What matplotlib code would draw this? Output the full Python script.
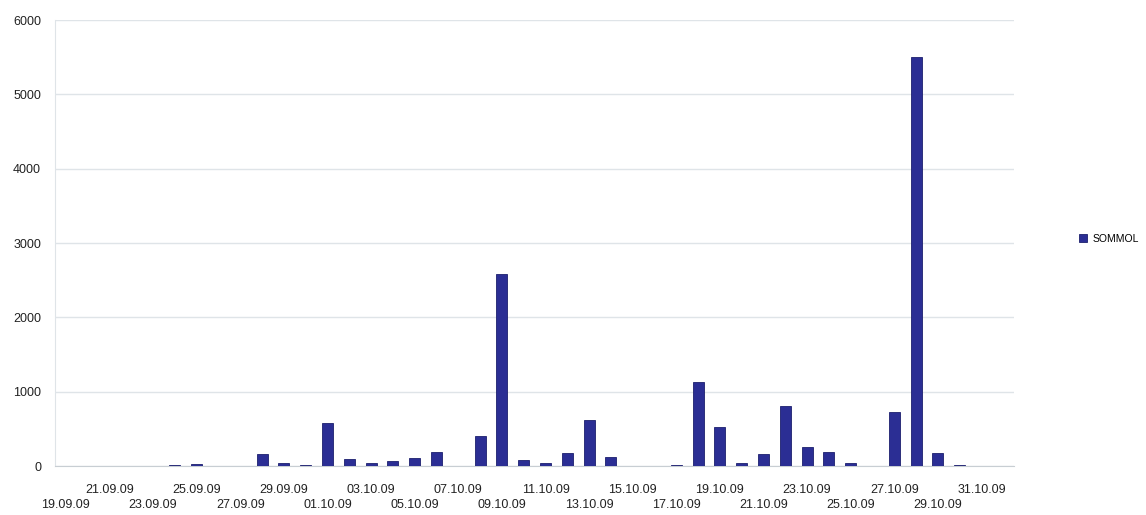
import numpy as np
import pandas as pd
import matplotlib
matplotlib.use('Agg')
import matplotlib.pyplot as plt

plt.rcParams['font.family'] = ['Liberation Sans', 'DejaVu Sans']

# one category per day, 19.09.09 .. 01.11.09
days = pd.date_range('2009-09-19', '2009-11-01', freq='D')
day_labels = [d.strftime('%d.%m.%y') for d in days]

sommol = [0, 0, 0, 0, 0, 10, 25, 0, 0, 160,
          40, 10, 580, 90, 40, 65, 105, 190, 5, 405,
          2580, 80, 40, 175, 620, 125, 0, 0, 10, 1130,
          530, 40, 160, 810, 255, 190, 40, 0, 725, 5510,
          175, 10, 0, 0]
series_name = 'SOMMOL'

bar_color = '#2b2e94'
edge_color = '#1c1f6e'
grid_color = '#dfe4e8'

fig = plt.figure(figsize=(11.46, 5.15), dpi=100)
ax = fig.add_axes([0.048, 0.095, 0.837, 0.866])

x = np.arange(len(days))
ax.bar(x, sommol, width=0.5, color=bar_color, edgecolor=edge_color,
       linewidth=0.6, label=series_name, zorder=3)

ax.set_xlim(-0.5, len(days) - 0.5)
ax.set_ylim(0, 6000)
ax.set_yticks(range(0, 6001, 1000))
ax.yaxis.grid(True, color=grid_color, linewidth=1.0, zorder=0)
ax.tick_params(axis='y', length=0, pad=10, labelsize=9, colors='#222222')

# staggered date labels: every 2nd day, alternating two rows
ax.set_xticks(x)
ax.set_xticklabels([])
ax.tick_params(axis='x', length=0)
for i in range(0, len(days), 2):
    y_off = -0.054 if i % 4 == 2 else -0.087
    ax.text(i, y_off, day_labels[i], transform=ax.get_xaxis_transform(),
            ha='center', va='center', fontsize=9, color='#222222')

for side in ['top', 'right']:
    ax.spines[side].set_visible(False)
ax.spines['left'].set_color(grid_color)
ax.spines['bottom'].set_color('#c8ced3')

ax.legend(loc='center left', bbox_to_anchor=(1.058, 0.51), frameon=False,
          fontsize=7.5, handlelength=0.7, handleheight=0.7, handletextpad=0.6)

fig.savefig('out.png', dpi=100)
